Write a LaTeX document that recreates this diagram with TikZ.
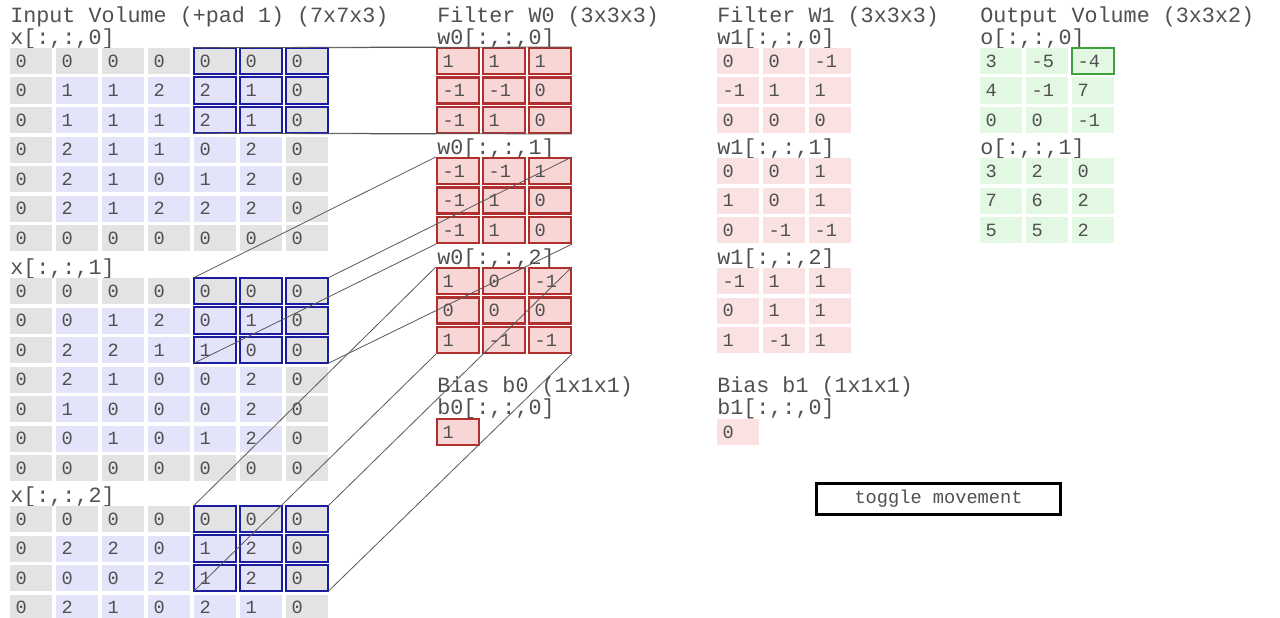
\documentclass[tikz,border=0pt]{standalone}
\usepackage{fontspec}
\setmainfont{Liberation Mono}
\usetikzlibrary{positioning}
\definecolor{padgray}{HTML}{E3E3E3}
\definecolor{inlav}{HTML}{E3E3FA}
\definecolor{txtgray}{HTML}{505050}
\definecolor{hlblue}{HTML}{1C1CA0}
\definecolor{wred}{HTML}{B03030}
\definecolor{wpink}{HTML}{F8D6D6}
\definecolor{opink}{HTML}{FBE2E2}
\definecolor{ogreen}{HTML}{E2F8E2}
\definecolor{hlgreen}{HTML}{3CA03C}
\tikzset{
  cell/.style={minimum width=31.5pt,minimum height=19.5pt,text width=23pt,inner xsep=4.25pt,
    inner ysep=0pt,align=left,text=txtgray,font=\fontsize{14}{15}\selectfont},
  ttl/.style={anchor=west,inner sep=0pt,text=txtgray,font=\fontsize{16.3}{17}\selectfont},
  hl/.style={draw=hlblue,line width=1.8pt},
  wcell/.style={cell,fill=wpink,draw=wred,line width=1.6pt},
  link/.style={draw=black!65,line width=0.6pt}
}
\begin{document}
\begin{tikzpicture}[x=0.75pt,y=-0.75pt]
\fill[white] (0,0) rectangle (1280,617);
\clip (0,0) rectangle (1280,617);

% titles
\node[ttl] (tin) at (10,17) {Input Volume (+pad 1) (7x7x3)};
\node[ttl] (tw0) at (437,17) {Filter W0 (3x3x3)};
\node[ttl] (tw1) at (717,17) {Filter W1 (3x3x3)};
\node[ttl] (tout) at (980,17) {Output Volume (3x3x2)};

% input volume
\foreach \k/\ty/\rows in {
  0/61/{{0,0,0,0,0,0,0},{0,1,1,2,2,1,0},{0,1,1,1,2,1,0},{0,2,1,1,0,2,0},{0,2,1,0,1,2,0},{0,2,1,2,2,2,0},{0,0,0,0,0,0,0}},
  1/291/{{0,0,0,0,0,0,0},{0,0,1,2,0,1,0},{0,2,2,1,1,0,0},{0,2,1,0,0,2,0},{0,1,0,0,0,2,0},{0,0,1,0,1,2,0},{0,0,0,0,0,0,0}},
  2/519/{{0,0,0,0,0,0,0},{0,2,2,0,1,2,0},{0,0,0,2,1,2,0},{0,2,1,0,2,1,0}}}{
  \node[ttl] (xl\k) at (10,\ty-22) {x[:,:,\k]};
  \foreach \row [count=\r from 0] in \rows {
    \foreach \v [count=\c from 0] in \row {
      \pgfmathtruncatemacro\pad{or(or(\r==0,\r==6),or(\c==0,\c==6))}
      \ifnum\pad=1 \def\fc{padgray}\else\def\fc{inlav}\fi
      \node[cell,fill=\fc] (x\k-\r-\c) at (31+46*\c,\ty+29.5*\r) {\v};
    }
  }
  \foreach \r in {0,1,2} \foreach \c in {4,5,6}
    \draw[hl] (x\k-\r-\c.north west) rectangle (x\k-\r-\c.south east);
}

% filter W0 and W1
\foreach \k/\ty/\va/\vb in {
  0/61/{{1,1,1},{-1,-1,0},{-1,1,0}}/{{0,0,-1},{-1,1,1},{0,0,0}},
  1/171/{{-1,-1,1},{-1,1,0},{-1,1,0}}/{{0,0,1},{1,0,1},{0,-1,-1}},
  2/281/{{1,0,-1},{0,0,0},{1,-1,-1}}/{{-1,1,1},{0,1,1},{1,-1,1}}}{
  \node[ttl] (wal\k) at (437,\ty-22) {w0[:,:,\k]};
  \node[ttl] (wbl\k) at (717,\ty-22) {w1[:,:,\k]};
  \foreach \row [count=\r from 0] in \va
    \foreach \v [count=\c from 0] in \row
      \node[wcell] (wa\k-\r-\c) at (458+46*\c,\ty+29.5*\r) {\v};
  \foreach \row [count=\r from 0] in \vb
    \foreach \v [count=\c from 0] in \row
      \node[cell,fill=opink] (wb\k-\r-\c) at (738+46*\c,\ty+29.5*\r) {\v};
}

% biases
\node[ttl] (tb0) at (437,387) {Bias b0 (1x1x1)};
\node[ttl] (lb0) at (437,409) {b0[:,:,0]};
\node[wcell] (b0) at (458,432) {1};
\node[ttl] (tb1) at (717,387) {Bias b1 (1x1x1)};
\node[ttl] (lb1) at (717,409) {b1[:,:,0]};
\node[cell,fill=opink] (b1) at (738,432) {0};

% output volume
\foreach \k/\ty/\vo in {0/61/{{3,-5,-4},{4,-1,7},{0,0,-1}},1/171/{{3,2,0},{7,6,2},{5,5,2}}}{
  \node[ttl] (ol\k) at (980,\ty-22) {o[:,:,\k]};
  \foreach \row [count=\r from 0] in \vo
    \foreach \v [count=\c from 0] in \row
      \node[cell,fill=ogreen] (o\k-\r-\c) at (1001+46*\c,\ty+29.5*\r) {\v};
}
\draw[draw=hlgreen,line width=1.6pt] (o0-0-2.north west) rectangle (o0-0-2.south east);

% connectors between receptive field and filter
\foreach \k in {0,1,2} {
  \draw[link] (x\k-0-4.north west) -- (wa\k-0-0.north west);
  \draw[link] (x\k-0-6.north east) -- (wa\k-0-2.north east);
  \draw[link] (x\k-2-4.south west) -- (wa\k-2-0.south west);
  \draw[link] (x\k-2-6.south east) -- (wa\k-2-2.south east);
}

% button
\node[draw=black,line width=1.8pt,minimum width=183pt,minimum height=23pt,text=txtgray,
  font=\fontsize{14}{15}\selectfont] (toggle) at (938.5,499) {toggle movement};
\end{tikzpicture}
\end{document}
